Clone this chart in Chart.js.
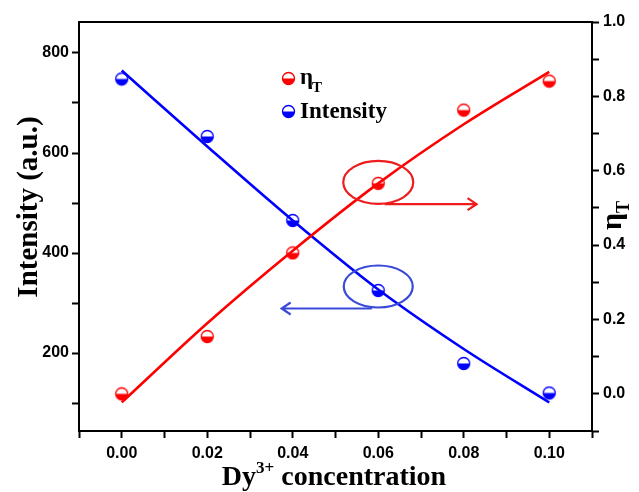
<!DOCTYPE html>
<html>
<head>
<meta charset="utf-8">
<script src="https://cdn.jsdelivr.net/npm/chart.js@4"></script>
<style>
  body { margin: 0; background: #fff; }
  #wrap { width: 639px; height: 492px; }
</style>
</head>
<body>
<div id="wrap"><canvas id="chart" width="639" height="492"></canvas></div>
<script>
// datos
const conc = [0, 0.02, 0.04, 0.06, 0.08, 0.10];
const intensity = [748, 633, 465, 325, 179, 120];
const etaT = [0.0, 0.154, 0.379, 0.566, 0.763, 0.841];
const intensityFit = [765, 613, 465, 327, 208, 101];
const etaFit = [-0.023, 0.19, 0.385, 0.566, 0.725, 0.866];

const RED = "#ff0000";
const BLUE = "#0000ff";
const SERIF = "'Liberation Serif', 'Times New Roman', serif";
const SANS = "'Liberation Sans', Arial, sans-serif";

// marcador medio relleno (mitad inferior)
function halfMarker(color) {
  const c = document.createElement("canvas");
  c.width = 15; c.height = 15;
  const g = c.getContext("2d");
  g.beginPath();
  g.arc(7.5, 7.5, 6, 0, Math.PI);
  g.closePath();
  g.fillStyle = color;
  g.fill();
  g.beginPath();
  g.arc(7.5, 7.5, 6, 0, Math.PI * 2);
  g.strokeStyle = color;
  g.lineWidth = 1.3;
  g.stroke();
  return c;
}
const mkRed = halfMarker(RED);
const mkBlue = halfMarker(BLUE);

const pts = (ys) => conc.map((x, i) => ({ x: x, y: ys[i] }));

function arrow(ctx, x1, y, x2, color) {
  const dir = Math.sign(x2 - x1);
  ctx.save();
  ctx.strokeStyle = color;
  ctx.lineWidth = 2.2;
  ctx.beginPath();
  ctx.moveTo(x1, y);
  ctx.lineTo(x2, y);
  ctx.moveTo(x2 - dir * 9, y - 6);
  ctx.lineTo(x2, y);
  ctx.lineTo(x2 - dir * 9, y + 6);
  ctx.stroke();
  ctx.restore();
}

function ellipse(ctx, cx, cy, rx, ry, color) {
  ctx.save();
  ctx.strokeStyle = color;
  ctx.lineWidth = 2.2;
  ctx.beginPath();
  ctx.ellipse(cx, cy, rx, ry, 0, 0, Math.PI * 2);
  ctx.stroke();
  ctx.restore();
}

const extras = {
  id: "extras",
  afterDatasetsDraw(chart) {
    const ctx = chart.ctx;
    const a = chart.chartArea;
    const sx = chart.scales.x, sy = chart.scales.y, sy1 = chart.scales.y1;

    // borde superior del marco
    ctx.save();
    ctx.strokeStyle = "#000";
    ctx.lineWidth = 2;
    ctx.beginPath();
    ctx.moveTo(a.left - 1, a.top);
    ctx.lineTo(a.right + 1, a.top);
    ctx.stroke();
    ctx.restore();

    // elipses y flechas
    ellipse(ctx, sx.getPixelForValue(0.06), sy1.getPixelForValue(0.566) - 1, 35, 21.5, "#ee1c1c");
    arrow(ctx, sx.getPixelForValue(0.0615), sy1.getPixelForValue(0.51), sx.getPixelForValue(0.083), "#ee1c1c");
    ellipse(ctx, sx.getPixelForValue(0.06), sy.getPixelForValue(325) - 4, 34.5, 21, "#3a4ad8");
    arrow(ctx, sx.getPixelForValue(0.0585), sy.getPixelForValue(289), sx.getPixelForValue(0.0374), "#3a4ad8");

    // leyenda
    ctx.save();
    ctx.drawImage(mkRed, 281, 71);
    ctx.drawImage(mkBlue, 281, 104);
    ctx.fillStyle = "#000";
    ctx.textBaseline = "alphabetic";
    ctx.font = "bold 23px " + SERIF;
    ctx.fillText("\u03b7", 300, 84);
    ctx.font = "bold 15px " + SERIF;
    ctx.fillText("T", 312, 92);
    ctx.font = "bold 23px " + SERIF;
    ctx.fillText("Intensity", 300, 118);
    ctx.restore();
  },
  afterDraw(chart) {
    const ctx = chart.ctx;
    ctx.save();
    ctx.fillStyle = "#000";
    ctx.textBaseline = "alphabetic";

    // titulo eje y izquierdo
    ctx.save();
    ctx.translate(37, 207);
    ctx.rotate(-Math.PI / 2);
    ctx.font = "bold 29px " + SERIF;
    ctx.textAlign = "center";
    ctx.fillText("Intensity (a.u.)", 0, 0);
    ctx.restore();

    // titulo eje x con superindice
    const f1 = "bold 28px " + SERIF, f2 = "bold 17px " + SERIF;
    ctx.font = f1;
    const wDy = ctx.measureText("Dy").width;
    const wRest = ctx.measureText(" concentration").width;
    ctx.font = f2;
    const wSup = ctx.measureText("3+").width;
    let x = 334 - (wDy + wSup + wRest) / 2;
    const base = 485;
    ctx.font = f1; ctx.fillText("Dy", x, base); x += wDy;
    ctx.font = f2; ctx.fillText("3+", x, base - 12); x += wSup;
    ctx.font = f1; ctx.fillText(" concentration", x, base);

    // titulo eje y derecho
    ctx.save();
    ctx.translate(621, 230);
    ctx.rotate(-Math.PI / 2);
    ctx.font = "bold 30px " + SERIF;
    ctx.fillText("\u03b7", 0, 0);
    const wEta = ctx.measureText("\u03b7").width;
    ctx.font = "bold 18px " + SERIF;
    ctx.fillText("T", wEta, 8);
    ctx.restore();

    ctx.restore();
  },
};

const tickFont = { family: SANS, weight: "bold", size: 16 };
const gridOut = {
  drawOnChartArea: false,
  drawTicks: true,
  tickLength: 7,
  tickWidth: 2,
  tickColor: "#000",
};

new Chart(document.getElementById("chart").getContext("2d"), {
  type: "scatter",
  data: {
    datasets: [
      {
        label: "\u03b7T",
        data: pts(etaT),
        yAxisID: "y1",
        pointStyle: mkRed,
        pointRadius: 7,
        showLine: false,
        order: 0,
      },
      {
        label: "Intensity",
        data: pts(intensity),
        yAxisID: "y",
        pointStyle: mkBlue,
        pointRadius: 7,
        showLine: false,
        order: 0,
      },
      {
        label: "ajuste eta",
        data: pts(etaFit),
        yAxisID: "y1",
        showLine: true,
        borderColor: RED,
        borderWidth: 2.6,
        pointRadius: 0,
        cubicInterpolationMode: "monotone",
        order: 1,
      },
      {
        label: "ajuste intensidad",
        data: pts(intensityFit),
        yAxisID: "y",
        showLine: true,
        borderColor: BLUE,
        borderWidth: 2.6,
        pointRadius: 0,
        cubicInterpolationMode: "monotone",
        order: 1,
      },
    ],
  },
  options: {
    responsive: false,
    animation: false,
    layout: { padding: { top: 22, left: 0, right: 0, bottom: 0 } },
    plugins: {
      legend: { display: false },
      tooltip: { enabled: false },
    },
    scales: {
      x: {
        type: "linear",
        min: -0.01,
        max: 0.11,
        afterFit: (s) => { s.height = 61; },
        border: { color: "#000", width: 2 },
        grid: gridOut,
        ticks: {
          stepSize: 0.01,
          color: "#000",
          font: tickFont,
          padding: 6,
          maxRotation: 0,
          autoSkip: false,
          callback: (v) => {
            const k = Math.round(v * 100);
            return k >= 0 && k <= 10 && k % 2 === 0 ? (k / 100).toFixed(2) : "";
          },
        },
      },
      y: {
        position: "left",
        min: 44,
        max: 862,
        afterFit: (s) => { s.width = 79; },
        border: { color: "#000", width: 2 },
        grid: gridOut,
        ticks: {
          stepSize: 100,
          includeBounds: false,
          color: "#000",
          font: tickFont,
          padding: 3,
          autoSkip: false,
          callback: (v) => (Math.round(v) % 200 === 0 ? String(Math.round(v)) : ""),
        },
      },
      y1: {
        position: "right",
        min: -0.1,
        max: 1.0,
        afterFit: (s) => { s.width = 47; },
        border: { color: "#000", width: 2 },
        grid: gridOut,
        ticks: {
          stepSize: 0.1,
          color: "#000",
          font: tickFont,
          padding: 4,
          autoSkip: false,
          callback: (v) => {
            const k = Math.round(v * 10);
            return k >= 0 && k % 2 === 0 ? (k / 10).toFixed(1) : "";
          },
        },
      },
    },
  },
  plugins: [extras],
});
</script>
</body>
</html>
